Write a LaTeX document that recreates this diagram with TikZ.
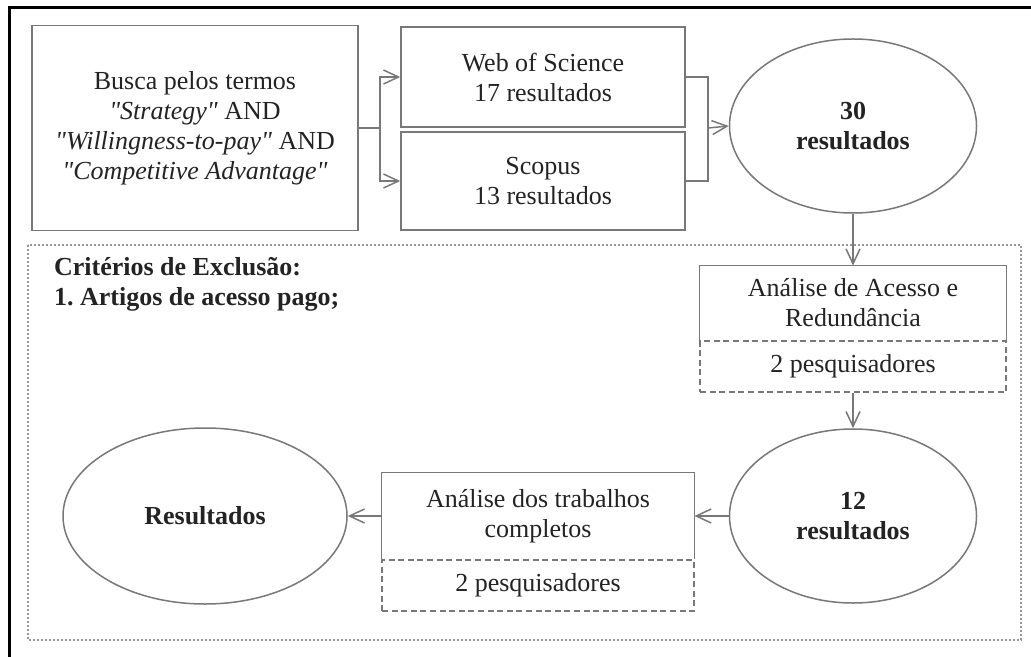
\documentclass[tikz,border=0pt]{standalone}
\usepackage{fontspec}
\setmainfont{Liberation Serif}[Ligatures=TeXOff]
\usetikzlibrary{shapes.geometric,arrows.meta}

\newcommand{\tamanho}{\fontsize{13}{15}\selectfont}

\tikzset{
  caixa/.style={rectangle, draw=linhacolor, line width=0.75pt, align=center, inner sep=0pt, text=textocolor},
  metade/.style={rectangle, draw=none, align=center, inner sep=0pt, text=textocolor},
  pesq/.style={rectangle, draw=linhacolor, line width=0.75pt, dash pattern=on 3pt off 1.8pt, align=center, inner sep=0pt, text=textocolor},
  elipse/.style={ellipse, draw=linhacolor, line width=0.75pt, align=center, inner sep=0pt, font=\tamanho\bfseries, text=textocolor},
  seta/.style={draw=linhacolor, line width=0.75pt, -{Straight Barb[length=7.5pt,width=7pt]}},
  linha/.style={draw=linhacolor, line width=0.75pt}
}

\begin{document}
\begin{tikzpicture}[x=0.5pt, y=-0.5pt, font=\tamanho]
            % Define the colors
            \definecolor{linhacolor}{RGB}{120, 120, 120}
            \definecolor{textocolor}{RGB}{35, 35, 35}
            \definecolor{tracocolor}{RGB}{150, 150, 150}

            \useasboundingbox (0,0) rectangle (1031,657);

            % Draw the outer frame
            \draw[black, line width=1.5pt] (9,657) -- (9,8) -- (1031,8);

            % Draw the search box and the two databases
            \node[caixa, minimum width=163pt, minimum height=102.5pt] (busca) at (195,128)
                {Busca pelos termos\\ \textit{"Strategy"} AND\\ \textit{"Willingness-to-pay"} AND\\ \textit{"Competitive Advantage"}};
            \node[caixa, minimum width=142pt, minimum height=50pt] (wos) at (543,77) {Web of Science\\ 17 resultados};
            \node[caixa, minimum width=142pt, minimum height=49pt] (scopus) at (543,181) {Scopus\\ 13 resultados};
            \node[elipse, minimum width=123.5pt, minimum height=87pt] (e30) at (853,126) {30\\ resultados};

            % Draw the brackets
            \coordinate (j1) at (380,128);
            \coordinate (j2) at (708,128);
            \draw[linha] (busca.east) -- (j1);
            \draw[seta] (j1) |- (wos.west);
            \draw[seta] (j1) |- (scopus.west);
            \draw[linha] (wos.east) -| (j2);
            \draw[linha] (scopus.east) -| (j2);
            \draw[seta] (j2) -- (e30.west);

            % Draw the dashed boundary of the exclusion stage
            \draw[draw=tracocolor, line width=0.75pt, dash pattern=on 1.2pt off 0.8pt] (28,245) rectangle (1021,640);
            \node[anchor=west, align=left, font=\tamanho\bfseries, text=textocolor] (criterios) at (47,284)
                {Critérios de Exclusão:\\ 1.\ Artigos de acesso pago;};

            % Access and redundancy
            \node[metade, minimum width=153pt, minimum height=37pt] (acesso) at (853,303) {Análise de Acesso e\\ Redundância};
            \draw[linha] (acesso.south west) |- (acesso.north east) -- (acesso.south east);
            \node[pesq, minimum width=153pt, minimum height=25.5pt, anchor=north] (acessopesq) at (acesso.south) {2 pesquisadores};
            \node[elipse, minimum width=123.5pt, minimum height=87pt] (e12) at (853,516) {12\\ resultados};

            % Full text analysis
            \node[metade, minimum width=156pt, minimum height=43pt] (trab) at (538,516) {Análise dos trabalhos\\ completos};
            \draw[linha] (trab.south west) |- (trab.north east) -- (trab.south east);
            \node[pesq, minimum width=156pt, minimum height=25.5pt, anchor=north] (trabpesq) at (trab.south) {2 pesquisadores};
            \node[elipse, minimum width=142pt, minimum height=88pt] (res) at (205,516) {Resultados};

            % Draw the arrows
            \draw[seta] (e30.south) -- (acesso.north);
            \draw[seta] (acessopesq.south) -- (e12.north);
            \draw[seta] (e12.west) -- (trab.east);
            \draw[seta] (trab.west) -- (res.east);

        \end{tikzpicture}
\end{document}
